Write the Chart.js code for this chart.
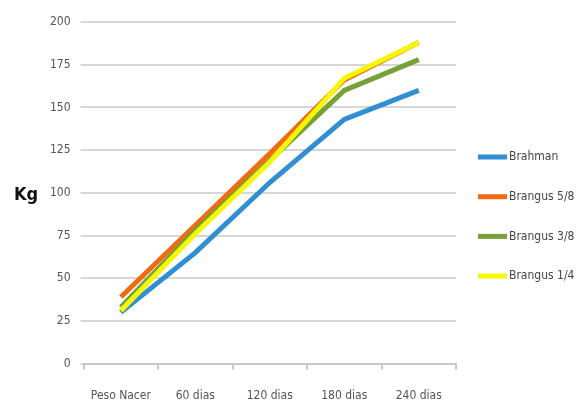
<!DOCTYPE html>
<html>
<head>
<meta charset="utf-8">
<script src="https://cdn.jsdelivr.net/npm/chart.js@4/dist/chart.umd.min.js"></script>
<style>
  html, body { margin: 0; padding: 0; background: #fff; overflow: hidden; }
</style>
</head>
<body>
<canvas id="lineChart" width="586" height="405"></canvas>
<script>
// Datos del gráfico
const categorias = ['Peso Nacer', '60 dias', '120 dias', '180 dias', '240 dias'];
const brahman = [30, 65, 106, 143, 160];
const brangus58 = [39, 81, 123, 166, 188];
const brangus38 = [33, 78, 119, 160, 178];
const brangus14 = [31, 76, 118, 167, 188];
const series = ['Brahman', 'Brangus 5/8', 'Brangus 3/8', 'Brangus 1/4'];
const colores = ['#2f8fd2', '#f26b12', '#76a136', '#f7f705'];
const valores = [brahman, brangus58, brangus38, brangus14];

const fuente = "'DejaVu Sans Condensed', 'DejaVu Sans', sans-serif";

// Etiqueta "Kg" horizontal + leyenda a la derecha
const extras = {
    id: 'extras',
    afterDraw(chart) {
        const ctx = chart.ctx;
        ctx.save();
        ctx.font = "bold 18px " + fuente;
        ctx.fillStyle = '#111';
        ctx.textAlign = 'center';
        ctx.textBaseline = 'middle';
        ctx.fillText('Kg', 26, 195);

        // leyenda
        ctx.font = "12px " + fuente;
        ctx.textAlign = 'left';
        chart.data.datasets.forEach((ds, i) => {
            const y = 157 + i * 39.7;
            ctx.fillStyle = ds.borderColor;
            ctx.fillRect(478, y - 2.5, 29, 5);
            ctx.fillStyle = '#454545';
            ctx.fillText(ds.label, 509, y);
        });
        ctx.restore();
    }
};

const ctx = document.getElementById('lineChart').getContext('2d');
const lineChart = new Chart(ctx, {
    type: 'line',
    data: {
        labels: categorias,
        datasets: series.map((nombre, i) => ({
            label: nombre,
            data: valores[i],
            borderColor: colores[i],
            backgroundColor: colores[i],
            borderWidth: 5,
            pointRadius: 0,
            tension: 0,
            order: 4 - i
        }))
    },
    options: {
        responsive: false,
        animation: false,
        layout: {
            padding: { left: 40, right: 130, top: 22, bottom: -17 }
        },
        plugins: {
            tooltip: { enabled: false },
            legend: { display: false }
        },
        scales: {
            y: {
                min: 0,
                max: 200,
                border: { display: false },
                ticks: {
                    stepSize: 25,
                    padding: 10,
                    color: '#555',
                    font: { family: fuente, size: 12 }
                },
                grid: {
                    color: '#d6d6d6',
                    lineWidth: 2,
                    tickLength: 3
                }
            },
            x: {
                offset: true,
                border: { display: true, color: '#c8c8c8', width: 2 },
                ticks: {
                    padding: 19,
                    color: '#555',
                    maxRotation: 0,
                    autoSkip: false,
                    font: { family: fuente, size: 12 }
                },
                grid: {
                    offset: true,
                    drawOnChartArea: false,
                    color: '#c8c8c8',
                    lineWidth: 2,
                    tickLength: 6
                }
            }
        }
    },
    plugins: [extras]
});
</script>
</body>
</html>
